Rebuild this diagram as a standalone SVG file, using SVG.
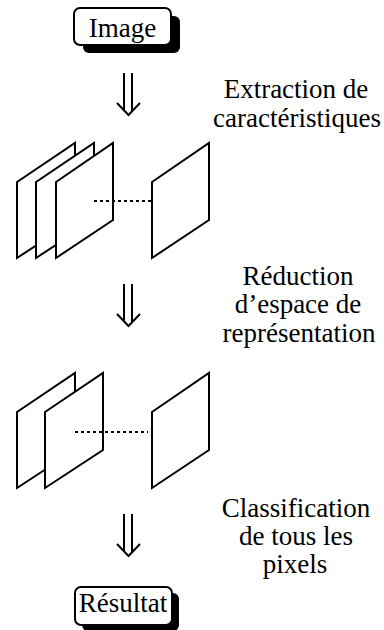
<svg xmlns="http://www.w3.org/2000/svg" xmlns:xlink="http://www.w3.org/1999/xlink" width="384" height="630" viewBox="0 0 384 630">
  <style>
    .lbl { text-anchor: middle; font-size: 27px; fill: #000; }
    .box { fill: #fff; stroke: #000; stroke-width: 2; }
    .shadow { fill: #000; }
    .plane { fill: #fff; stroke: #000; stroke-width: 2; stroke-linejoin: miter; }
    .dots { stroke: #000; stroke-width: 2; stroke-dasharray: 3 3; fill: none; }
    .arrow { fill: none; stroke: #000; stroke-width: 2; }
  </style>
  <defs>
    <!-- double down arrow, origin at top centre -->
    <g id="dbl-arrow">
      <path class="arrow" d="M-4.5,0 V38 M3.5,0 V38"/>
      <path class="arrow" d="M-11.5,30 L0,42 L11.5,30"/>
    </g>
  </defs>

  <rect width="384" height="630" fill="#fff"/>

  <g font-family="Liberation Serif, Times New Roman, serif">
    <!-- input node -->
    <g id="image">
      <rect class="shadow" x="83" y="16" width="97" height="37" rx="6"/>
      <rect class="box" x="74" y="8" width="97" height="37" rx="6"/>
      <text class="lbl" x="122.5" y="37">Image</text>
    </g>

    <!-- connectors -->
    <g id="connectors">
      <use xlink:href="#dbl-arrow" x="128.5" y="73"/>
      <use xlink:href="#dbl-arrow" x="128.5" y="284"/>
      <use xlink:href="#dbl-arrow" x="128.5" y="514"/>
    </g>

    <!-- step 1 label -->
    <g id="step-extraction">
      <text class="lbl" x="296" y="98">Extraction de</text>
      <text class="lbl" x="297" y="127">caractéristiques</text>
    </g>

    <!-- feature planes -->
    <g id="features">
      <polygon class="plane" points="17,182 75,143 75,220 17,258"/>
      <polygon class="plane" points="36,182 94,143 94,220 36,258"/>
      <polygon class="plane" points="56,182 113,143 113,220 56,258"/>
      <line class="dots" x1="94" y1="201" x2="152" y2="201"/>
      <polygon class="plane" points="152,182 209,143 209,220 152,258"/>
    </g>

    <!-- step 2 label -->
    <g id="step-reduction">
      <text class="lbl" x="298" y="285">Réduction</text>
      <text class="lbl" x="298" y="313">d’espace de</text>
      <text class="lbl" x="299" y="342">représentation</text>
    </g>

    <!-- reduced planes -->
    <g id="reduced">
      <polygon class="plane" points="17,412 75,373 75,450 17,488"/>
      <polygon class="plane" points="45,412 103,373 103,450 45,488"/>
      <line class="dots" x1="75" y1="432" x2="148" y2="432"/>
      <polygon class="plane" points="152,412 209,373 209,450 152,488"/>
    </g>

    <!-- step 3 label -->
    <g id="step-classification">
      <text class="lbl" x="296" y="517">Classification</text>
      <text class="lbl" x="296" y="545">de tous les</text>
      <text class="lbl" x="295" y="573">pixels</text>
    </g>

    <!-- output node -->
    <g id="resultat">
      <rect class="shadow" x="82" y="593" width="97" height="38" rx="6"/>
      <rect class="box" x="75" y="587" width="97" height="38" rx="6"/>
      <text class="lbl" x="123" y="612">Résultat</text>
    </g>
  </g>
</svg>
